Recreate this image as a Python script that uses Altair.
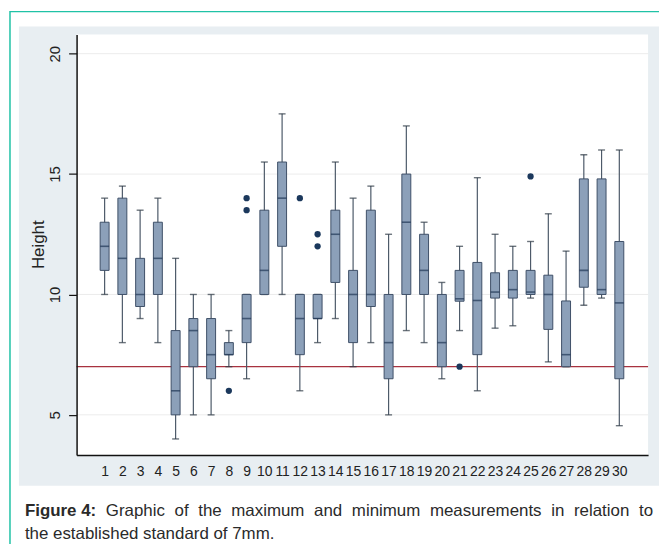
import altair as alt
import pandas as pd

# ---------------- data ----------------
cats = list(range(1, 31))
whisker_low = [10, 8, 9, 8, 4, 5, 5, 7, 6.5, 10, 10, 6, 8, 9, 7, 8, 5, 8.5, 8, 6.5,
               8.5, 6, 8.6, 8.7, 9.85, 7.2, 7, 9.55, 9.85, 4.55]
q1 = [11, 10, 9.5, 10, 5, 7, 6.5, 7.5, 8, 10, 12, 7.5, 9, 10.5, 8, 9.5, 6.5, 10, 10, 7,
      9.72, 7.5, 9.85, 9.85, 10, 8.55, 7, 10.3, 10, 6.5]
median = [12, 11.5, 10, 11.5, 6, 8.5, 7.5, 7.5, 9, 11, 14, 9, 9, 12.5, 10, 10, 8, 13, 11, 8,
          9.82, 9.75, 10.1, 10.2, 10.1, 10, 7.5, 11, 10.2, 9.65]
q3 = [13, 14, 11.5, 13, 8.5, 9, 9, 8, 10, 13.5, 15.5, 10, 10, 13.5, 11, 13.5, 10, 15, 12.5, 10,
      11, 11.33, 10.9, 11, 11, 10.8, 9.73, 14.8, 14.8, 12.2]
whisker_high = [14, 14.5, 13.5, 14, 11.5, 10, 10, 8.5, 10, 15.5, 17.5, 10, 10, 15.5, 14, 14.5, 12.5, 17, 13, 10.5,
                12, 14.85, 12.5, 12, 12.2, 13.35, 11.8, 15.8, 16, 16]
outlier_cat = [8, 9, 9, 12, 13, 13, 21, 25]
outlier_val = [6.0, 14.0, 13.5, 14.0, 12.5, 12.0, 7.0, 14.9]
grid_values = [5, 10, 15, 20]
standard = [7]

y_title = "Height"
caption_bold = "Figure 4:"
caption_line1 = "Graphic of the maximum and minimum measurements in relation to"
caption_line2 = "the established standard of 7mm."

# ---------------- layout ----------------
W, H = 575, 423
FONT = "Liberation Sans, Arial, Helvetica, sans-serif"
CAP_SIZE = 17

# Arial advance widths (per 1000 em) used to justify the first caption line
_AW = {" ": 278, "a": 556, "b": 556, "c": 500, "d": 556, "e": 556, "f": 278, "g": 556,
       "h": 556, "i": 222, "j": 222, "k": 500, "l": 222, "m": 833, "n": 556, "o": 556,
       "p": 556, "q": 556, "r": 333, "s": 500, "t": 278, "u": 556, "v": 500, "w": 722,
       "x": 500, "y": 500, "z": 500, "G": 778, ".": 278, ":": 278}
_AWB = {"F": 611, "i": 278, "g": 611, "u": 611, "r": 389, "e": 556, " ": 278, "4": 556, ":": 333}


def text_w(s, table, size):
    return sum(table.get(c, 556) for c in s) * size / 1000.0


line_left, line_right = -52, 580
words = caption_line1.split(" ")
bold_w = text_w(caption_bold, _AWB, CAP_SIZE)
words_w = sum(text_w(w, _AW, CAP_SIZE) for w in words)
gap = (line_right - line_left - bold_w - words_w) / len(words)
word_x = []
cur = line_left + bold_w + gap
for w in words:
    word_x.append(cur)
    cur += text_w(w, _AW, CAP_SIZE) + gap

box_df = pd.DataFrame({"cat": cats, "lo": whisker_low, "q1": q1, "med": median,
                       "q3": q3, "hi": whisker_high})
out_df = pd.DataFrame({"cat": outlier_cat, "val": outlier_val})
grid_df = pd.DataFrame({"val": grid_values})
std_df = pd.DataFrame({"val": standard})
one = pd.DataFrame({"k": [0]})

xs = alt.Scale(domain=[-0.30, 31.34], nice=False, zero=False)
ys = alt.Scale(domain=[3.337, 20.797], nice=False, zero=False)

x_axis = alt.Axis(values=cats, format="d", title=None, ticks=False, tickSize=0,
                  labelPadding=10, labelBaseline="top", labelFontSize=14, labelFont=FONT,
                  labelColor="#222222", domainColor="#111111", domainWidth=1.5, grid=False,
                  zindex=1, labelAngle=0, labelFlush=False, labelOverlap=False)
y_axis = alt.Axis(values=grid_values, title=y_title, titleX=-33, titleY=211, titleAngle=270,
                  titleAlign="center", titleBaseline="alphabetic", titleFontSize=17,
                  titleFontWeight="normal", titleFont=FONT, titleColor="#222222",
                  labelAngle=270, labelAlign="center", labelBaseline="alphabetic",
                  labelPadding=9, labelFontSize=15, labelFont=FONT, labelColor="#222222",
                  tickSize=8, tickColor="#111111", tickWidth=1.2,
                  domainColor="#111111", domainWidth=1.5, grid=False, zindex=1)


def X():
    return alt.X("cat:Q", scale=xs, axis=x_axis)


def Y(field):
    return alt.Y(field, type="quantitative", scale=ys, axis=y_axis)


panel = alt.Chart(one).mark_rect(fill="#e8eef2").encode(
    x=alt.value(-58), x2=alt.value(586), y=alt.value(-8), y2=alt.value(454))
border = alt.Chart(one).mark_rect(fillOpacity=0, stroke="#20c2a6", strokeWidth=1.5).encode(
    x=alt.value(-67), x2=alt.value(800), y=alt.value(-23), y2=alt.value(800))
plot_bg = alt.Chart(one).mark_rect(fill="white").encode(
    x=alt.value(0), x2=alt.value(W), y=alt.value(0), y2=alt.value(H))

grid = alt.Chart(grid_df).mark_rule(color="#ececec", strokeWidth=1).encode(y=Y("val"))
std_line = alt.Chart(std_df).mark_rule(color="#a8323f", strokeWidth=1.2).encode(y=Y("val"))

whiskers = alt.Chart(box_df).mark_rule(color="#4d5a69", strokeWidth=1.2).encode(
    x=X(), y=Y("lo"), y2="hi:Q")
cap_lo = alt.Chart(box_df).mark_tick(orient="horizontal", size=7, thickness=1.4,
                                     color="#2f3a46").encode(x=X(), y=Y("lo"))
cap_hi = alt.Chart(box_df).mark_tick(orient="horizontal", size=7, thickness=1.4,
                                     color="#2f3a46").encode(x=X(), y=Y("hi"))
boxes = alt.Chart(box_df).mark_bar(size=9, fill="#8ca0b9", stroke="#3e5068",
                                   strokeWidth=1).encode(x=X(), y=Y("q1"), y2="q3:Q")
medians = alt.Chart(box_df).mark_tick(orient="horizontal", size=9, thickness=1.6,
                                      color="#1f3656").encode(x=X(), y=Y("med"))
outliers = alt.Chart(out_df).mark_point(filled=True, size=40, color="#1b385c",
                                        opacity=1).encode(x=X(), y=Y("val"))


def caption_text(txt, px, py, bold=False):
    return alt.Chart(one).mark_text(
        align="left", baseline="alphabetic", fontSize=CAP_SIZE, font=FONT,
        fontWeight="bold" if bold else "normal", color="#2a2a2a"
    ).encode(x=alt.value(px), y=alt.value(py), text=alt.value(txt))


caption_layers = [caption_text(caption_bold, line_left, 484, bold=True)]
caption_layers += [caption_text(w, px, 484) for w, px in zip(words, word_x)]
caption_layers.append(caption_text(caption_line2, line_left, 508))

chart = alt.layer(
    panel, border, plot_bg, grid, std_line, whiskers, cap_lo, cap_hi, boxes, medians,
    outliers, *caption_layers
).properties(
    width=W, height=H,
    padding={"left": 69, "top": 25, "right": 11, "bottom": 88},
    autosize=alt.AutoSizeParams(type="none"),
    background="white",
).configure_view(stroke=None, fill="white")

chart.save("out.html", embed_options={"renderer": "svg", "actions": False})
